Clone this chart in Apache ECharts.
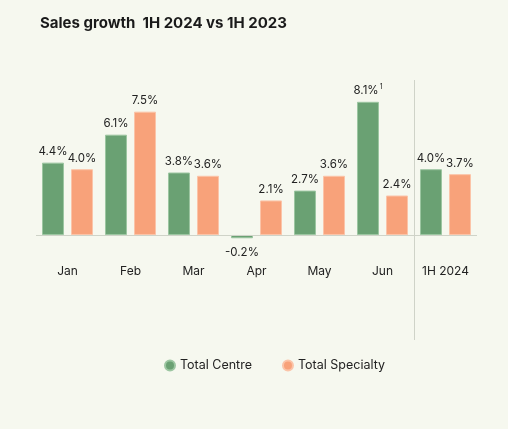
<!DOCTYPE html>
<html><head><meta charset="utf-8">
<script src="https://cdn.jsdelivr.net/npm/echarts@6/dist/echarts.min.js"></script>
<style>html,body{margin:0;padding:0;background:#f6f8ef}#c{width:508px;height:429px}</style>
</head><body><div id="c"></div>
<script>
var categories = ['Jan','Feb','Mar','Apr','May','Jun','1H 2024'];
var totalCentre = [4.4, 6.1, 3.8, -0.2, 2.7, 8.1, 4.0];
var totalSpecialty = [4.0, 7.5, 3.6, 2.1, 3.6, 2.4, 3.7];
var footnotes = {5: '1'};

var FONT = 'Inter, "Noto Sans", sans-serif';
function mkData(arr) {
  return arr.map(function (v) {
    var o = {value: v};
    if (v < 0) o.label = {position: 'bottom', distance: 8};
    return o;
  });
}
var labelFmt = function (p) {
  var s = p.value.toFixed(1) + '%';
  if (p.seriesIndex === 0 && footnotes[p.dataIndex]) s += '{sup|' + footnotes[p.dataIndex] + '}';
  return s;
};
var chart = echarts.init(document.getElementById('c'));
var option = {
  backgroundColor: '#f6f8ef',
  animation: false,
  title: {text: 'Sales growth  1H 2024 vs 1H 2023', left: 35, top: 11,
    textStyle: {fontFamily: FONT, fontSize: 15, fontWeight: 'bold', color: '#1a1a1a'}},
  legend: {bottom: 52, left: 159, icon: 'circle', itemWidth: 10, itemHeight: 10, itemGap: 30,
    textStyle: {fontFamily: FONT, fontSize: 12.5, color: '#222'}},
  grid: {left: 36, right: 31, top: 87, bottom: 171},
  xAxis: {type: 'category', data: categories,
    axisLine: {show: false}, axisTick: {show: false},
    axisLabel: {fontFamily: FONT, fontSize: 12, color: '#222', margin: 7}},
  yAxis: {type: 'value', min: -1.4, max: 9, show: false},
  series: [
    {name: 'Total Centre', type: 'bar', data: mkData(totalCentre), barGap: '32%', barCategoryGap: '19%',
      itemStyle: {color: '#6aa173', borderColor: '#9cc6a1', borderWidth: 1},
      label: {show: true, position: 'top', distance: 5, formatter: labelFmt,
        fontFamily: FONT, fontSize: 11.5, color: '#222',
        rich: {sup: {fontSize: 7, verticalAlign: 'top', padding: [0, 0, 6, 1], color: '#222', fontFamily: FONT}}},
      markLine: {silent: true, symbol: 'none', label: {show: false},
        lineStyle: {color: '#cfd3c8', type: 'solid', width: 1}, data: [{yAxis: 0}]}},
    {name: 'Total Specialty', type: 'bar', data: mkData(totalSpecialty),
      itemStyle: {color: '#f8a27a', borderColor: '#fbc4a8', borderWidth: 1},
      label: {show: true, position: 'top', distance: 5, formatter: labelFmt,
        fontFamily: FONT, fontSize: 11.5, color: '#222'}}
  ]
};
chart.setOption(option);
var x5 = chart.convertToPixel({xAxisIndex: 0}, 5);
var x6 = chart.convertToPixel({xAxisIndex: 0}, 6);
var sx = Math.round((x5 + x6) / 2) + 0.5;
chart.setOption({graphic: [{type: 'line', shape: {x1: sx, y1: 80, x2: sx, y2: 340},
  style: {stroke: '#cfd3c8', lineWidth: 1}, z: 0}]});
</script></body></html>
